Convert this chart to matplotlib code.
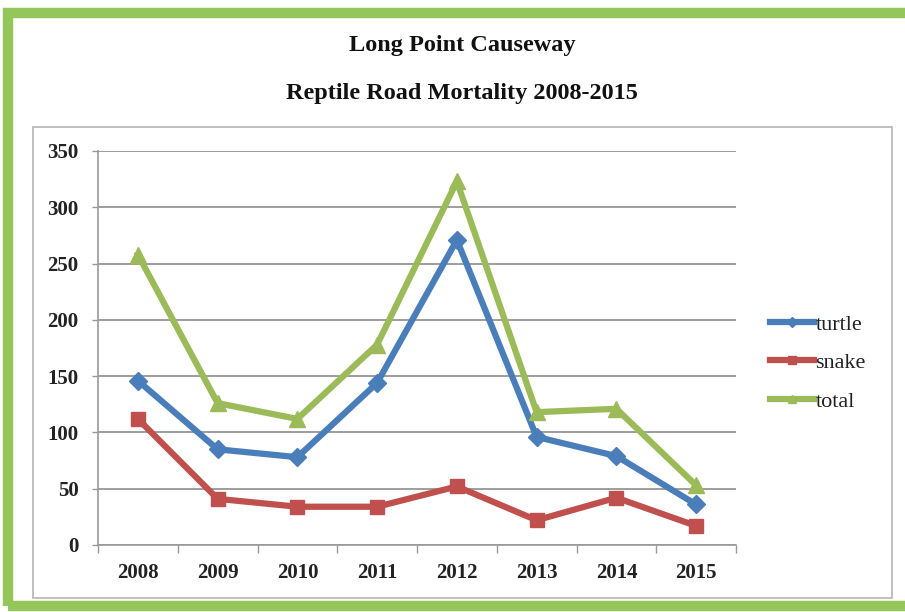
import matplotlib.pyplot as plt
from matplotlib.patches import Rectangle

years = ["2008", "2009", "2010", "2011", "2012", "2013", "2014", "2015"]
turtle = [146, 85, 78, 144, 271, 96, 79, 36]
snake = [112, 41, 34, 34, 52, 22, 42, 17]
total = [258, 126, 112, 178, 323, 118, 121, 53]
y_ticks = [0, 50, 100, 150, 200, 250, 300, 350]

W, H = 905, 612
fig = plt.figure(figsize=(W / 100, H / 100), dpi=100)
fig.patch.set_facecolor("white")

# green frame round the whole picture
fig.patches.append(Rectangle((8 / W, 1 - 606 / H), 902 / W, 593 / H, transform=fig.transFigure,
                             fill=False, edgecolor="#94C659", linewidth=7.5, zorder=-2))
# grey chart area frame
fig.patches.append(Rectangle((33 / W, 1 - 598 / H), 859 / W, 471 / H, transform=fig.transFigure,
                             facecolor="white", edgecolor="#b5b5b5", linewidth=1.2, zorder=-1))

font = "Liberation Serif"
fig.text(462 / W, 1 - 45 / H, "Long Point Causeway", ha="center", va="center",
         fontsize=17.5, fontweight="bold", family=font, color="#111111")
fig.text(462 / W, 1 - 93 / H, "Reptile Road Mortality 2008-2015", ha="center", va="center",
         fontsize=17.5, fontweight="bold", family=font, color="#111111")

ax = fig.add_axes([98 / W, 1 - 545 / H, 638 / W, 394 / H])
ax.set_zorder(2)
ax.set_facecolor("none")
x = list(range(len(years)))

series = [("turtle", turtle, "#4A7EBB", "D", 9.5),
          ("snake", snake, "#C0504D", "s", 10.5),
          ("total", total, "#9BBB59", "^", 11.5)]
for name, vals, col, mk, ms in series:
    ax.plot(x, vals, color=col, linewidth=4.5, marker=mk, markersize=ms,
            markerfacecolor=col, markeredgecolor=col, label=name, zorder=3)

ax.set_xlim(-0.5, 7.5)
ax.set_ylim(0, 350)
ax.set_yticks(y_ticks)
ax.set_yticklabels([str(v) for v in y_ticks])
ax.set_xticks(x)
ax.set_xticklabels(years)
ax.set_xticks([i - 0.5 for i in range(len(years) + 1)], minor=True)
ax.tick_params(axis="x", which="major", length=0, pad=13)
ax.tick_params(axis="x", which="minor", length=6, color="#999999", width=1)
ax.tick_params(axis="y", length=4, color="#999999", width=1, pad=10)
for lab in ax.get_xticklabels() + ax.get_yticklabels():
    lab.set_family(font)
    lab.set_fontweight("bold")
    lab.set_fontsize(15)
    lab.set_color("#222222")

ax.grid(axis="y", color="#8c8c8c", linewidth=1.2, zorder=0)
ax.set_axisbelow(True)
for side in ["top", "right"]:
    ax.spines[side].set_visible(False)
ax.spines["left"].set_color("#999999")
ax.spines["bottom"].set_color("#999999")
ax.spines["left"].set_linewidth(1.2)
ax.spines["bottom"].set_linewidth(1.2)

leg = ax.legend(loc="center left", bbox_to_anchor=(1.053, 0.462), frameon=False,
                borderaxespad=0, borderpad=0,
                handlelength=2.0, handletextpad=0.05, labelspacing=0.8,
                prop={"family": font, "size": 16}, markerscale=0.55)
for t in leg.get_texts():
    t.set_color("#222222")

fig.savefig("out.png", dpi=100)
